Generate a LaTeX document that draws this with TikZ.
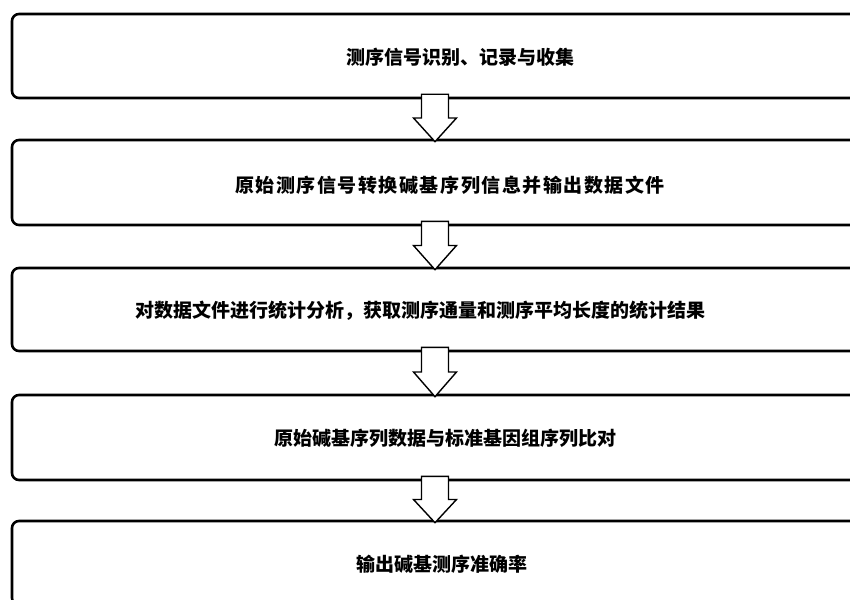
\documentclass[tikz,border=0pt]{standalone}
\usepackage{fontspec}
\newfontfamily\cjk{Noto Sans CJK SC}
\newfontfamily\cjkwide{Noto Sans CJK SC}[LetterSpace=8]
\usetikzlibrary{calc}
\tikzset{
  stagebox/.style={draw=black, line width=2.6pt, rounded corners=7pt, minimum width=846pt, inner sep=0pt},
  stagetext/.style={font=\cjk\bfseries\fontsize{19}{22}\selectfont, inner sep=0pt},
  widetext/.style={font=\cjkwide\bfseries\fontsize{19}{22}\selectfont, inner sep=0pt},
  blockarrow/.style={draw=black, line width=1.4pt, fill=white, line join=miter}
}
\begin{document}
\begin{tikzpicture}[x=1pt,y=-1pt]
\useasboundingbox (0,0) rectangle (850,599);
\clip (0,0) rectangle (850,599);
\node[stagebox, minimum height=84pt] (b1) at (435,56) {};
\node[stagebox, minimum height=85pt] (b2) at (435,182.5) {};
\node[stagebox, minimum height=83pt] (b3) at (435,309.5) {};
\node[stagebox, minimum height=85pt] (b4) at (435,437.5) {};
\node[stagebox, minimum height=84pt] (b5) at (435,563) {};
\node[stagetext] (t1) at (460,57) {测序信号识别、记录与收集};
\node[widetext] (t2) at (450,185) {原始测序信号转换碱基序列信息并输出数据文件};
\node[stagetext, anchor=east] (t3) at (706,311) {对数据文件进行统计分析，获取测序通量和测序平均长度的统计结果};
\node[stagetext] (t4) at (445,438) {原始碱基序列数据与标准基因组序列比对};
\node[stagetext] (t5) at (442,564) {输出碱基测序准确率};
\foreach \u/\l in {b1/b2,b2/b3,b3/b4,b4/b5}{
  \coordinate (s) at ([yshift=5pt]\u.south);
  \coordinate (e) at ([yshift=-3pt]\l.north);
  \draw[blockarrow] ($(s)+(-13.5,0)$) -- ($(s)+(13.5,0)$) -- ($(s)!0.5!(e)+(13.5,0)$) -- ($(s)!0.5!(e)+(21.5,0)$) -- (e) -- ($(s)!0.5!(e)+(-21.5,0)$) -- ($(s)!0.5!(e)+(-13.5,0)$) -- cycle;
}
\end{tikzpicture}
\end{document}
